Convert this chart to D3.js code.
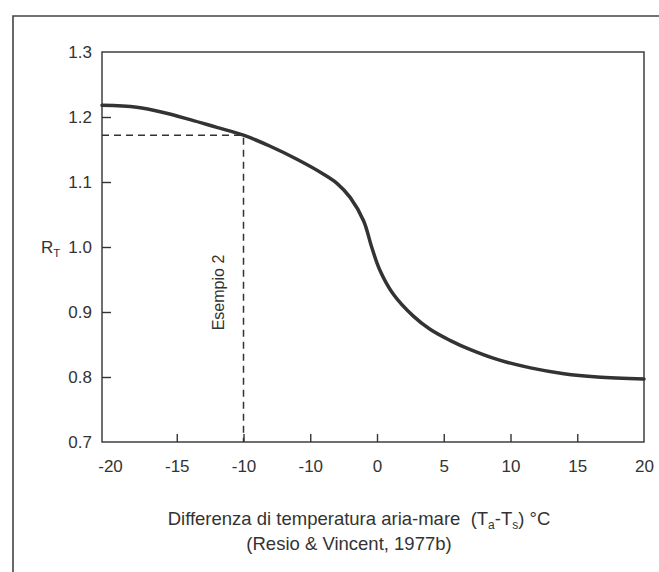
<!DOCTYPE html>
<html>
<head>
<meta charset="utf-8">
<script src="https://cdn.jsdelivr.net/npm/d3@7"></script>
<style>
  html, body { margin: 0; padding: 0; background: #fff; }
  svg { display: block; }
  text { font-family: "Liberation Sans", Arial, sans-serif; fill: #333; }
</style>
</head>
<body>
<svg id="chart" width="659" height="572"></svg>
<script>
// ---- data ----
const xValues = [-20.6, -18, -16, -14, -12, -10, -8, -6, -4, -3, -2, -1, -0.4, 0.2, 1.2, 2.7, 4, 5.5, 7, 9, 11.5, 14, 16.5, 20];
const rtValues = [1.218, 1.215, 1.207, 1.196, 1.184, 1.172, 1.155, 1.135, 1.112, 1.098, 1.076, 1.040, 1.000, 0.965, 0.928, 0.894, 0.873, 0.856, 0.842, 0.827, 0.814, 0.805, 0.800, 0.797];
const xTickValues = [-20, -15, -10, -5, 0, 5, 10, 15, 20];
const xTickLabels = ["-20", "-15", "-10", "-10", "0", "5", "10", "15", "20"];
const yTickValues = [0.7, 0.8, 0.9, 1.0, 1.1, 1.2, 1.3];
const yTickLabels = ["0.7", "0.8", "0.9", "1.0", "1.1", "1.2", "1.3"];
const exampleX = [-10];
const exampleY = [1.172];
const exampleLabel = ["Esempio 2"];

const svg = d3.select("#chart");
const ink = "#333";

// outer frame (runs off the right and bottom)
svg.append("path")
  .attr("d", "M13,580 L13,16 L670,16")
  .attr("fill", "none").attr("stroke", "#444").attr("stroke-width", 1.6);

const pL = 102, pR = 644, pT = 52, pB = 442;
const x = d3.scaleLinear().domain([-20.6, 20]).range([pL, pR]);
const y = d3.scaleLinear().domain([0.7, 1.3]).range([pB, pT]);

// plot frame
svg.append("rect")
  .attr("x", pL).attr("y", pT)
  .attr("width", pR - pL).attr("height", pB - pT)
  .attr("fill", "none").attr("stroke", ink).attr("stroke-width", 1.4);

// x axis (inner ticks)
const xAxis = d3.axisBottom(x)
  .tickValues(xTickValues)
  .tickSize(-8)
  .tickPadding(18)
  .tickFormat((d, i) => xTickLabels[i]);
const gx = svg.append("g").attr("transform", `translate(0,${pB})`).call(xAxis);
gx.select(".domain").remove();
gx.selectAll(".tick line").attr("stroke", ink).attr("stroke-width", 1.4)
  .attr("display", d => (d === -20 || d === 20) ? "none" : null);
gx.selectAll(".tick text").attr("font-size", 17).attr("fill", ink)
  .attr("font-family", "Liberation Sans, Arial, sans-serif");

// y axis (inner ticks)
const yAxis = d3.axisLeft(y)
  .tickValues(yTickValues)
  .tickSize(-9)
  .tickPadding(10)
  .tickFormat((d, i) => yTickLabels[i]);
const gy = svg.append("g").attr("transform", `translate(${pL},0)`).call(yAxis);
gy.select(".domain").remove();
gy.selectAll(".tick line").attr("stroke", ink).attr("stroke-width", 1.4)
  .attr("display", d => (Math.abs(d - 0.7) < 1e-6 || Math.abs(d - 1.3) < 1e-6) ? "none" : null);
gy.selectAll(".tick text").attr("font-size", 17).attr("fill", ink)
  .attr("font-family", "Liberation Sans, Arial, sans-serif");

// R_T label
const rt = svg.append("text")
  .attr("x", 41).attr("y", y(1.0) + 6)
  .attr("font-size", 17);
rt.append("tspan").text("R");
rt.append("tspan").attr("font-size", 11.5).attr("dy", 4).text("T");

// dashed example lines
svg.append("path")
  .attr("d", `M${pL},${y(exampleY[0])} L${x(exampleX[0])},${y(exampleY[0])} L${x(exampleX[0])},${pB}`)
  .attr("fill", "none").attr("stroke", ink).attr("stroke-width", 1.5)
  .attr("stroke-dasharray", "7,5");

svg.append("text")
  .attr("transform", `translate(${x(exampleX[0]) - 20},${y(0.93)}) rotate(-90)`)
  .attr("text-anchor", "middle")
  .attr("font-size", 16)
  .text(exampleLabel[0]);

// curve
const data = xValues.map((v, i) => ({ x: v, y: rtValues[i] }));
const line = d3.line().x(d => x(d.x)).y(d => y(d.y)).curve(d3.curveCatmullRom.alpha(0.5));
svg.append("path")
  .datum(data)
  .attr("d", line)
  .attr("fill", "none").attr("stroke", ink).attr("stroke-width", 3.5)
  .attr("stroke-linecap", "round");

// axis title
const t1 = svg.append("text")
  .attr("x", 359).attr("y", 525)
  .attr("text-anchor", "middle").attr("font-size", 18.5);
t1.append("tspan").text("Differenza di temperatura aria-mare\u00A0\u00A0(T");
t1.append("tspan").attr("font-size", 12).attr("dy", 4).text("a");
t1.append("tspan").attr("dy", -4).text("-T");
t1.append("tspan").attr("font-size", 12).attr("dy", 4).text("s");
t1.append("tspan").attr("dy", -4).text(") \u00B0C");

svg.append("text")
  .attr("x", 349).attr("y", 550)
  .attr("text-anchor", "middle").attr("font-size", 18.5)
  .text("(Resio & Vincent, 1977b)");
</script>
</body>
</html>
